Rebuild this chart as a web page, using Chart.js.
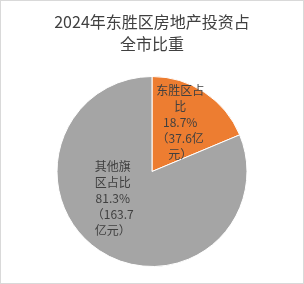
<!DOCTYPE html>
<html>
<head>
<meta charset="utf-8">
<script src="https://cdn.jsdelivr.net/npm/chart.js@4"></script>
<style>
  html, body { margin: 0; padding: 0; background: #fff; }
  #box { width: 302px; height: 282px; border: 1px solid #d9d9d9; background: #fff; }
</style>
</head>
<body>
<div id="box"><canvas id="myChart" width="302" height="282"></canvas></div>
<script>
var titleLines = ['2024年东胜区房地产投资占', '全市比重'];
var categories = ['东胜区占比', '其他旗区占比'];
var percents = [18.7, 81.3];
var amounts = [37.6, 163.7]; // 亿元
var colors = ['#ED7D31', '#A5A5A5'];

// where each label sits: shift from slice mid angle (deg), fraction of radius, wrap width
var labelShift = [-4, 22];
var labelDist = [0.6, 0.5];
var labelWrap = [50, 44];

function wrapText(ctx, txt, maxW) {
  var out = [], cur = '';
  for (var i = 0; i < txt.length; i++) {
    var t = cur + txt[i];
    if (cur && ctx.measureText(t).width > maxW) { out.push(cur); cur = txt[i]; }
    else cur = t;
  }
  if (cur) out.push(cur);
  return out;
}

const sliceLabels = {
  id: 'sliceLabels',
  afterDatasetsDraw(chart) {
    var ctx = chart.ctx;
    var meta = chart.getDatasetMeta(0);
    ctx.save();
    ctx.font = '12px "Noto Sans CJK SC", sans-serif';
    ctx.fillStyle = '#404040';
    ctx.textAlign = 'center';
    ctx.textBaseline = 'middle';
    meta.data.forEach(function(arc, i) {
      var mid = (arc.startAngle + arc.endAngle) / 2 + labelShift[i] * Math.PI / 180;
      var r = arc.outerRadius * labelDist[i];
      var cx = arc.x + Math.cos(mid) * r;
      var cy = arc.y + Math.sin(mid) * r;
      var lines = [];
      [categories[i], percents[i].toFixed(1) + '%', '（' + amounts[i] + '亿元）'].forEach(function(s) {
        lines = lines.concat(wrapText(ctx, s, labelWrap[i]));
      });
      var lh = 16;
      var y0 = cy - (lines.length - 1) * lh / 2;
      lines.forEach(function(l, k) { ctx.fillText(l, cx, y0 + k * lh); });
    });
    ctx.restore();
  }
};

const data = {
  labels: categories,
  datasets: [{
    data: percents,
    backgroundColor: colors,
    borderColor: '#ffffff',
    borderWidth: 1
  }]
};

const config = {
  type: 'pie',
  data,
  options: {
    responsive: false,
    animation: false,
    radius: 95,
    layout: { padding: { top: 0, bottom: 0, left: 0, right: 0 } },
    plugins: {
      legend: { display: false },
      tooltip: { enabled: false },
      title: {
        display: true,
        text: titleLines,
        color: '#404040',
        font: { family: '"Noto Sans CJK SC", sans-serif', size: 16, weight: 'normal', lineHeight: 1.375 },
        padding: { top: 10, bottom: 5 }
      }
    }
  },
  plugins: [sliceLabels]
};

const myChart = new Chart(document.getElementById('myChart').getContext('2d'), config);
</script>
</body>
</html>
